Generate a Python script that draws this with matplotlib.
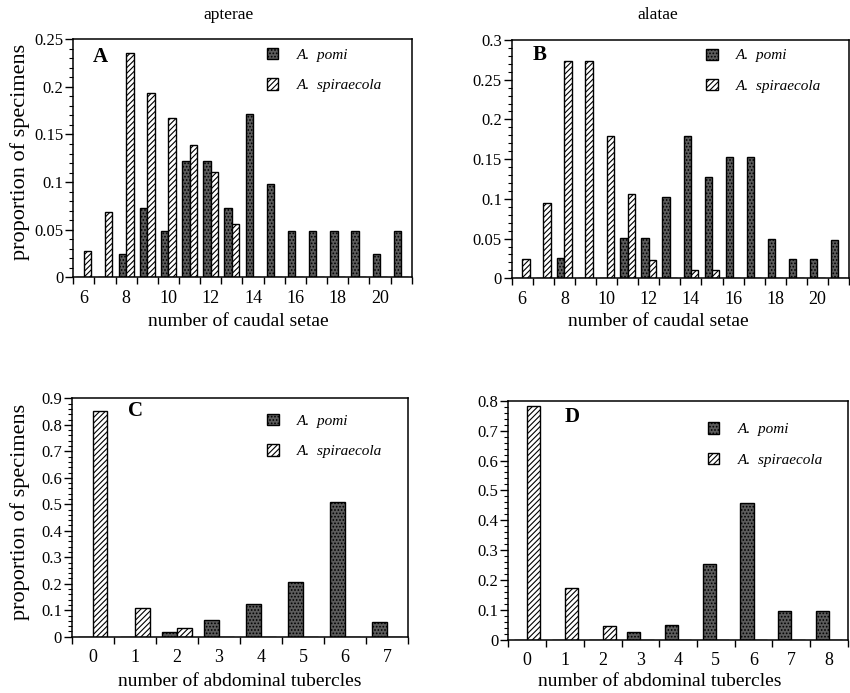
import matplotlib
matplotlib.use("Agg")
import matplotlib.pyplot as plt
from matplotlib.ticker import FixedLocator, MultipleLocator, FuncFormatter
import numpy as np

plt.rcParams['font.family'] = ['Liberation Serif', 'DejaVu Serif']
plt.rcParams['hatch.linewidth'] = 0.8

# number of caudal setae
setae = [6, 7, 8, 9, 10, 11, 12, 13, 14, 15, 16, 17, 18, 19, 20, 21]
setae_labels = ['6', '', '8', '', '10', '', '12', '', '14', '', '16', '', '18', '', '20', '']
pomi_apt_setae = [0, 0, 0.024, 0.073, 0.049, 0.122, 0.122, 0.073, 0.171, 0.098, 0.049, 0.049, 0.049, 0.049, 0.024, 0.049]
spir_apt_setae = [0.028, 0.069, 0.236, 0.194, 0.167, 0.139, 0.111, 0.056, 0, 0, 0, 0, 0, 0, 0, 0]
pomi_ala_setae = [0, 0, 0.026, 0, 0, 0.051, 0.051, 0.102, 0.179, 0.127, 0.153, 0.153, 0.049, 0.024, 0.024, 0.048]
spir_ala_setae = [0.024, 0.095, 0.274, 0.274, 0.179, 0.106, 0.023, 0, 0.011, 0.011, 0, 0, 0, 0, 0, 0]

# number of abdominal tubercles
tub_apt = [0, 1, 2, 3, 4, 5, 6, 7]
pomi_apt_tub = [0, 0, 0.016, 0.062, 0.123, 0.208, 0.507, 0.057]
spir_apt_tub = [0.852, 0.107, 0.033, 0, 0, 0, 0, 0]
tub_ala = [0, 1, 2, 3, 4, 5, 6, 7, 8]
pomi_ala_tub = [0, 0, 0, 0.026, 0.05, 0.253, 0.457, 0.097, 0.097]
spir_ala_tub = [0.783, 0.173, 0.047, 0, 0, 0, 0, 0, 0]


def panel(ax, cats, labels, pomi, spir, ymax, ymaj, ymin, letter, letpos, legpos, xlabel, xlabpos):
    x = np.array(cats) + 0.5
    w = 0.35
    b1 = ax.bar(x - w / 2, pomi, w, color='#5c5c5c', edgecolor='black', hatch='.....', linewidth=1.0)
    b2 = ax.bar(x + w / 2, spir, w, color='white', edgecolor='black', hatch='//////', linewidth=1.0)
    ax.set_xlim(cats[0], cats[-1] + 1)
    ax.set_ylim(0, ymax)
    ax.xaxis.set_major_locator(FixedLocator(list(cats) + [cats[-1] + 1]))
    ax.xaxis.set_major_formatter(FuncFormatter(lambda v, p: ''))
    ax.xaxis.set_minor_locator(FixedLocator(list(x)))
    ax.set_xticklabels(labels, minor=True)
    ax.tick_params(axis='x', which='major', direction='out', length=5, width=1)
    ax.tick_params(axis='x', which='minor', length=0, pad=9, labelsize=13)
    ax.yaxis.set_major_locator(MultipleLocator(ymaj))
    ax.yaxis.set_minor_locator(MultipleLocator(ymin))
    ax.yaxis.set_major_formatter(FuncFormatter(lambda v, p: '%g' % round(v, 3)))
    ax.tick_params(axis='y', which='major', direction='out', length=6, width=1, pad=1, labelsize=12)
    ax.tick_params(axis='y', which='minor', direction='out', length=3, width=0.8)
    for s in ax.spines.values():
        s.set_linewidth(1.1)
    ax.text(letpos[0], letpos[1], letter, transform=ax.transAxes, fontsize=15,
            fontweight='bold', ha='left', va='center')
    ax.legend([b1, b2], ['A.  pomi', 'A.  spiraecola'], loc='upper left',
              bbox_to_anchor=legpos, frameon=False, borderpad=0, borderaxespad=0,
              handlelength=0.75, handleheight=0.75, handletextpad=1.2, labelspacing=1.1,
              prop={'style': 'italic', 'size': 11})
    ax.set_xlabel(xlabel, fontsize=14)
    ax.xaxis.set_label_coords(*xlabpos)


fig = plt.figure(figsize=(8.5, 6.93), dpi=100)
axA = fig.add_axes([0.0862, 0.5999, 0.3981, 0.3434])
axB = fig.add_axes([0.602, 0.5984, 0.3968, 0.3439])
axC = fig.add_axes([0.0844, 0.0812, 0.3956, 0.344])
axD = fig.add_axes([0.598, 0.0765, 0.3996, 0.3453])

panel(axA, setae, setae_labels, pomi_apt_setae, spir_apt_setae, 0.25, 0.05, 0.01,
      'A', (0.058, 0.926), (0.572, 0.965), 'number of caudal setae', (0.487, -0.151))
panel(axB, setae, setae_labels, pomi_ala_setae, spir_ala_setae, 0.3, 0.05, 0.01,
      'B', (0.063, 0.935), (0.577, 0.964), 'number of caudal setae', (0.435, -0.146))
panel(axC, tub_apt, [str(t) for t in tub_apt], pomi_apt_tub, spir_apt_tub, 0.9, 0.1, 0.02,
      'C', (0.167, 0.945), (0.581, 0.936), 'number of abdominal tubercles', (0.5, -0.152))
panel(axD, tub_ala, [str(t) for t in tub_ala], pomi_ala_tub, spir_ala_tub, 0.8, 0.1, 0.02,
      'D', (0.167, 0.930), (0.588, 0.909), 'number of abdominal tubercles', (0.447, -0.138))

axA.set_ylabel('proportion of specimens', fontsize=16)
axC.set_ylabel('proportion of specimens', fontsize=16)
axA.yaxis.set_label_coords(-0.128, 0.527)
axC.yaxis.set_label_coords(-0.124, 0.525)

fig.text(229 / 850, 1 - 15 / 693, 'apterae', ha='center', va='center', fontsize=12.5)
fig.text(658 / 850, 1 - 15 / 693, 'alatae', ha='center', va='center', fontsize=12.5)

fig.savefig('out.png', dpi=100)
